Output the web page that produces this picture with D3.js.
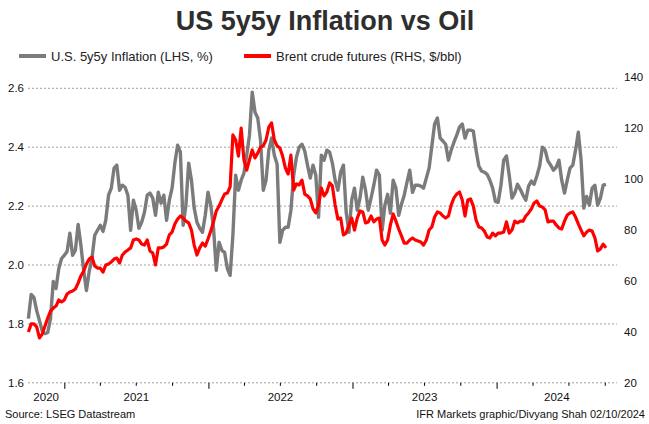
<!DOCTYPE html>
<html>
<head>
<meta charset="utf-8">
<script src="https://cdn.jsdelivr.net/npm/d3@7"></script>
<style>
  body { margin: 0; background: #fff; }
  svg { display: block; font-family: "Liberation Sans", Arial, sans-serif; }
</style>
</head>
<body>
<div id="graph1"></div>
<script>
// weekly readings, first week ending 2 Oct 2020
const startDate = '2020-10-02';

const inflation = [
  1.818, 1.900, 1.890, 1.845, 1.811, 1.777, 1.767, 1.771, 1.818, 1.944,
  1.920, 1.988, 2.022, 2.033, 2.046, 2.108, 2.033, 2.050, 2.138, 2.067,
  1.982, 1.913, 1.978, 2.022, 2.101, 2.118, 2.135, 2.114, 2.152, 2.237,
  2.261, 2.329, 2.339, 2.254, 2.271, 2.264, 2.237, 2.118, 2.220, 2.186,
  2.125, 2.145, 2.179, 2.237, 2.244, 2.227, 2.169, 2.247, 2.210, 2.237,
  2.152, 2.220, 2.261, 2.346, 2.407, 2.383, 2.135, 2.203, 2.346, 2.288,
  2.193, 2.145, 2.125, 2.111, 2.169, 2.247, 2.203, 2.125, 1.982, 2.077,
  2.050, 2.043, 1.988, 1.965, 2.101, 2.305, 2.254, 2.288, 2.312, 2.373,
  2.441, 2.587, 2.519, 2.499, 2.424, 2.254, 2.288, 2.390, 2.431, 2.373,
  2.342, 2.077, 2.118, 2.128, 2.128, 2.186, 2.305, 2.366, 2.400, 2.410,
  2.387, 2.339, 2.295, 2.339, 2.305, 2.162, 2.373, 2.356, 2.390, 2.383,
  2.346, 2.288, 2.254, 2.315, 2.339, 2.179, 2.111, 2.220, 2.261, 2.186,
  2.227, 2.298, 2.254, 2.186, 2.227, 2.271, 2.322, 2.305, 2.118, 2.203,
  2.240, 2.176, 2.288, 2.261, 2.169, 2.206, 2.237, 2.281, 2.322, 2.247,
  2.271, 2.271, 2.268, 2.261, 2.295, 2.329, 2.404, 2.479, 2.499, 2.431,
  2.421, 2.410, 2.356, 2.390, 2.417, 2.441, 2.468, 2.479, 2.431, 2.458,
  2.458, 2.455, 2.390, 2.336, 2.319, 2.315, 2.308, 2.288, 2.261, 2.216,
  2.213, 2.271, 2.356, 2.370, 2.305, 2.227, 2.244, 2.274, 2.257, 2.237,
  2.220, 2.268, 2.285, 2.274, 2.302, 2.336, 2.400, 2.390, 2.353, 2.339,
  2.322, 2.332, 2.356, 2.288, 2.244, 2.288, 2.329, 2.339, 2.390, 2.451,
  2.356, 2.193, 2.233, 2.203, 2.261, 2.271, 2.203, 2.227, 2.271, 2.274
];

const brent = [
  40.1, 43.3, 43.3, 42.1, 37.8, 39.3, 42.5, 45.6, 48.3, 49.5,
  50.3, 52.7, 51.9, 52.7, 55.0, 55.8, 56.2, 57.0, 59.3, 62.1,
  64.0, 66.8, 68.7, 69.5, 66.0, 65.2, 65.2, 63.6, 66.4, 66.8,
  67.6, 68.7, 69.1, 67.2, 70.3, 71.5, 72.3, 73.1, 76.2, 76.6,
  76.2, 74.6, 74.2, 76.2, 71.9, 71.1, 66.4, 73.1, 73.1, 73.5,
  74.6, 78.2, 79.3, 82.5, 84.4, 85.6, 84.8, 83.6, 82.9, 80.1,
  74.2, 70.3, 73.1, 75.0, 73.8, 76.6, 79.7, 83.3, 87.6, 89.5,
  91.9, 94.2, 94.6, 97.0, 117.4, 115.4, 109.1, 120.1, 107.6, 103.6,
  107.6, 111.5, 108.4, 110.3, 112.7, 113.1, 115.4, 120.5, 122.1, 115.4,
  113.1, 112.3, 109.1, 104.4, 102.1, 109.5, 95.8, 98.2, 97.8, 99.7,
  94.2, 93.5, 92.3, 88.4, 86.8, 89.9, 96.6, 93.5, 95.0, 98.6,
  97.4, 89.9, 84.4, 84.8, 78.2, 78.9, 82.1, 84.8, 80.1, 84.8,
  87.6, 87.2, 82.9, 83.3, 85.6, 83.3, 84.4, 84.8, 76.2, 74.2,
  76.2, 82.1, 86.4, 83.6, 80.5, 77.8, 75.0, 75.0, 76.2, 77.0,
  76.2, 75.8, 75.4, 74.2, 76.2, 80.1, 81.3, 85.2, 87.2, 86.8,
  85.6, 84.8, 85.6, 89.9, 92.7, 94.2, 95.0, 91.9, 85.6, 91.9,
  92.3, 89.5, 84.0, 81.3, 80.9, 79.7, 77.4, 77.0, 78.9, 77.8,
  78.9, 78.9, 79.3, 83.3, 78.9, 80.1, 83.6, 82.9, 83.6, 83.6,
  85.6, 86.8, 88.4, 90.7, 91.5, 89.5, 89.1, 88.0, 83.3, 83.6,
  83.6, 82.1, 80.9, 80.5, 83.6, 86.0, 86.8, 87.2, 85.2, 82.5,
  80.1, 77.8, 79.3, 80.1, 79.7, 77.0, 71.9, 72.7, 74.6, 73.1
];

const leftTicks = [1.6, 1.8, 2.0, 2.2, 2.4, 2.6];
const rightTicks = [20, 40, 60, 80, 100, 120, 140];
const years = ['2020', '2021', '2022', '2023', '2024'];

const title = 'US 5y5y Inflation vs Oil';
const legendItems = ['U.S. 5y5y Inflation (LHS, %)', 'Brent crude futures (RHS, $/bbl)'];
const source = 'Source: LSEG Datastream';
const credit = 'IFR Markets graphic/Divyang Shah 02/10/2024';

const W = 649;
const H = 424;
const plot = { left: 28, right: 617, top: 88.3, bottom: 382.8 };

const parse = d3.timeParse('%Y-%m-%d');
const start = parse(startDate);
const dates = inflation.map((d, i) => d3.timeDay.offset(start, i * 7));

const svg = d3.select('#graph1')
  .append('svg')
    .attr('width', W)
    .attr('height', H);

svg.append('rect')
  .attr('width', W)
  .attr('height', H)
  .attr('fill', '#fff');

const x = d3.scaleTime()
  .domain([parse('2020-10-01'), parse('2024-11-01')])
  .range([plot.left, plot.right]);

const yLeft = d3.scaleLinear()
  .domain([1.6, 2.6])
  .range([plot.bottom, plot.top]);

// right axis is not tied to the grid
const yRight = d3.scaleLinear()
  .domain([20, 140])
  .range([383.3, 77.3]);

// grid
svg.append('g')
  .selectAll('line')
  .data(leftTicks)
  .join('line')
    .attr('x1', plot.left)
    .attr('x2', plot.right)
    .attr('y1', d => yLeft(d))
    .attr('y2', d => yLeft(d))
    .attr('stroke', '#a59cab')
    .attr('stroke-width', 1)
    .attr('stroke-dasharray', '2,2');

// left axis
svg.append('g')
  .attr('transform', `translate(${plot.left},0)`)
  .call(d3.axisLeft(yLeft).tickValues(leftTicks).tickSize(0).tickPadding(4).tickFormat(d3.format('.1f')))
  .call(g => g.select('.domain').remove())
  .call(g => g.selectAll('text').attr('fill', '#111').style('font-size', '11.5px').style('font-family', '"Liberation Sans", Arial, sans-serif'));

// right axis
svg.append('g')
  .attr('transform', `translate(${plot.right + 7},0)`)
  .call(d3.axisRight(yRight).tickValues(rightTicks).tickSize(0).tickPadding(0))
  .call(g => g.select('.domain').remove())
  .call(g => g.selectAll('text').attr('fill', '#111').style('font-size', '11.5px').style('font-family', '"Liberation Sans", Arial, sans-serif'));

// quarter ticks, longer at each new year
const quarters = d3.timeMonth.every(3).range(parse('2021-01-01'), parse('2024-11-01'));
svg.append('g')
  .attr('transform', `translate(0,${plot.bottom})`)
  .call(d3.axisBottom(x).tickValues(quarters).tickSize(3).tickFormat(''))
  .call(g => g.select('.domain').remove())
  .call(g => g.selectAll('.tick line')
    .attr('stroke', '#000')
    .attr('y2', d => d.getMonth() === 0 ? 6 : 3));

// year labels sit in the middle of each year's span
const xDomain = x.domain();
svg.append('g')
  .selectAll('text')
  .data(years)
  .join('text')
    .attr('x', d => {
      const a = d3.max([parse(`${d}-01-01`), xDomain[0]]);
      const b = d3.min([parse(`${+d + 1}-01-01`), xDomain[1]]);
      return (x(a) + x(b)) / 2;
    })
    .attr('y', 401)
    .attr('text-anchor', 'middle')
    .attr('fill', '#111')
    .style('font-size', '11.5px')
    .text(d => d);

// series
const lineLeft = d3.line()
  .x((d, i) => x(dates[i]))
  .y(d => yLeft(d));

const lineRight = d3.line()
  .x((d, i) => x(dates[i]))
  .y(d => yRight(d));

svg.append('path')
  .datum(inflation)
  .attr('fill', 'none')
  .attr('stroke', '#7b7b7b')
  .attr('stroke-width', 3.4)
  .attr('stroke-linejoin', 'round')
  .attr('d', lineLeft);

svg.append('path')
  .datum(brent)
  .attr('fill', 'none')
  .attr('stroke', '#ff0000')
  .attr('stroke-width', 3.2)
  .attr('stroke-linejoin', 'round')
  .attr('d', lineRight);

// title
svg.append('text')
  .attr('x', 325)
  .attr('y', 30)
  .attr('text-anchor', 'middle')
  .attr('fill', '#2e2e2e')
  .style('font-size', '27px')
  .style('font-weight', 'bold')
  .text(title);

// legend
const legend = svg.append('g');
const legendX = [19, 244];
const legendColor = ['#7b7b7b', '#ff0000'];
legendItems.forEach((t, i) => {
  legend.append('line')
    .attr('x1', legendX[i])
    .attr('x2', legendX[i] + 27)
    .attr('y1', 56)
    .attr('y2', 56)
    .attr('stroke', legendColor[i])
    .attr('stroke-width', 4);
  legend.append('text')
    .attr('x', legendX[i] + 32)
    .attr('y', 61)
    .attr('fill', '#222')
    .style('font-size', '13px')
    .text(t);
});

// footer
svg.append('text')
  .attr('x', 5)
  .attr('y', 418)
  .attr('fill', '#111')
  .style('font-size', '11px')
  .text(source);

svg.append('text')
  .attr('x', 645)
  .attr('y', 418)
  .attr('text-anchor', 'end')
  .attr('fill', '#111')
  .style('font-size', '11px')
  .text(credit);
</script>
</body>
</html>
